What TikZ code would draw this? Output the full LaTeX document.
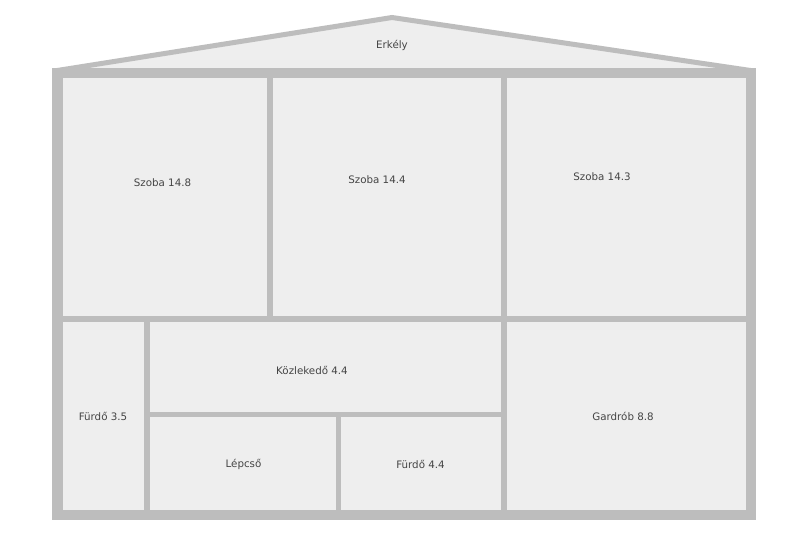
\documentclass[tikz,border=0pt]{standalone}
\usepackage{fontspec}
\setmainfont{DejaVu Sans}
\definecolor{wallc}{HTML}{BDBDBD}
\definecolor{roomc}{HTML}{EEEEEE}
\definecolor{txtc}{HTML}{444444}
\begin{document}
\begin{tikzpicture}[x=1pt,y=-1pt,
  room/.style={fill=roomc,draw=none},
  lbl/.style={text=txtc,font=\fontsize{10.3}{12}\selectfont,inner sep=0pt,anchor=center}]
\useasboundingbox (0,0) rectangle (800,538);
\fill[white] (0,0) rectangle (800,538);
% roof
\filldraw[fill=roomc,draw=wallc,line width=5pt,line join=miter] (54,71) -- (392,17.5) -- (754,71) -- cycle;
% house body (walls)
\fill[wallc] (52,68) rectangle (756,520);
% rooms
\fill[room] (62.5,78) rectangle (267,316);
\fill[room] (273,78) rectangle (501,316);
\fill[room] (506.5,78) rectangle (746,316);
\fill[room] (62.5,321.5) rectangle (143.5,510);
\fill[room] (149.5,321.5) rectangle (501,411.5);
\fill[room] (149.5,417) rectangle (335.5,510);
\fill[room] (341,417) rectangle (501,510);
\fill[room] (506.5,321.5) rectangle (746,510);
% labels
\node[lbl] (erkely) at (392,45.5) {Erkély};
\node[lbl] (sz148) at (162.5,182.5) {Szoba 14.8};
\node[lbl] (sz144) at (377,179.5) {Szoba 14.4};
\node[lbl] (sz143) at (602,176.5) {Szoba 14.3};
\node[lbl] (kozl) at (312,370.5) {Közlekedő 4.4};
\node[lbl] (fu35) at (103,416) {Fürdő 3.5};
\node[lbl] (lep) at (243.5,464) {Lépcső};
\node[lbl] (fu44) at (420.5,464) {Fürdő 4.4};
\node[lbl] (gard) at (623,416.5) {Gardrób 8.8};
\end{tikzpicture}
\end{document}
